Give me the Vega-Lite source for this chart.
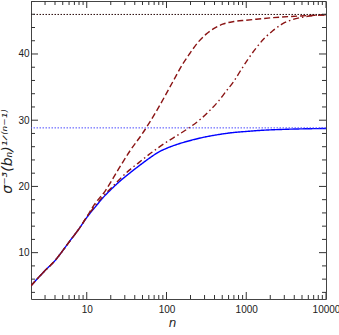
{
  "$schema": "https://vega.github.io/schema/vega-lite/v6.json",
  "width": 295,
  "height": 298,
  "autosize": {"type": "none"},
  "padding": {"left": 31, "top": 1, "right": 13, "bottom": 36},
  "background": "white",
  "config": {
    "view": {"stroke": "#444", "strokeWidth": 1},
    "axis": {"grid": false, "domain": false, "ticks": false, "labelFont": "Liberation Sans", "labelFontSize": 10, "labelColor": "#222", "titleFont": "DejaVu Sans", "titleFontStyle": "italic", "titleFontWeight": "normal", "titleColor": "#222", "labelOverlap": false, "labelFlush": false}
  },
  "datasets": {
    "one": [{"k": 1}],
    "xt": [{"t": 2}, {"t": 3}, {"t": 4}, {"t": 5}, {"t": 6}, {"t": 7}, {"t": 8}, {"t": 9}, {"t": 10}, {"t": 20}, {"t": 30}, {"t": 40}, {"t": 50}, {"t": 60}, {"t": 70}, {"t": 80}, {"t": 90}, {"t": 100}, {"t": 200}, {"t": 300}, {"t": 400}, {"t": 500}, {"t": 600}, {"t": 700}, {"t": 800}, {"t": 900}, {"t": 1000}, {"t": 2000}, {"t": 3000}, {"t": 4000}, {"t": 5000}, {"t": 6000}, {"t": 7000}, {"t": 8000}, {"t": 9000}, {"t": 10000}],
    "yt": [{"t": 4}, {"t": 6}, {"t": 8}, {"t": 10}, {"t": 12}, {"t": 14}, {"t": 16}, {"t": 18}, {"t": 20}, {"t": 22}, {"t": 24}, {"t": 26}, {"t": 28}, {"t": 30}, {"t": 32}, {"t": 34}, {"t": 36}, {"t": 38}, {"t": 40}, {"t": 42}, {"t": 44}, {"t": 46}, {"t": 48}],
    "curves": [
      {"n": 2, "v": 5.0, "s": "a"}, {"n": 2.6, "v": 6.5, "s": "a"}, {"n": 3, "v": 7.3, "s": "a"}, {"n": 4, "v": 8.8, "s": "a"}, {"n": 5, "v": 10.3, "s": "a"}, {"n": 6, "v": 11.6, "s": "a"}, {"n": 8, "v": 13.6, "s": "a"}, {"n": 10, "v": 15.3, "s": "a"}, {"n": 13, "v": 17.0, "s": "a"}, {"n": 16, "v": 18.3, "s": "a"}, {"n": 20, "v": 19.5, "s": "a"}, {"n": 25, "v": 20.6, "s": "a"}, {"n": 34.5, "v": 22.0, "s": "a"}, {"n": 50, "v": 23.5, "s": "a"}, {"n": 65, "v": 24.5, "s": "a"}, {"n": 80, "v": 25.2, "s": "a"}, {"n": 100, "v": 25.75, "s": "a"}, {"n": 140, "v": 26.4, "s": "a"}, {"n": 194, "v": 26.9, "s": "a"}, {"n": 300, "v": 27.45, "s": "a"}, {"n": 460, "v": 27.85, "s": "a"}, {"n": 700, "v": 28.15, "s": "a"}, {"n": 1000, "v": 28.3, "s": "a"}, {"n": 1450, "v": 28.45, "s": "a"}, {"n": 3000, "v": 28.62, "s": "a"}, {"n": 10000, "v": 28.75, "s": "a"},
      {"n": 2, "v": 5.0, "s": "b"}, {"n": 2.6, "v": 6.5, "s": "b"}, {"n": 3, "v": 7.3, "s": "b"}, {"n": 4, "v": 8.8, "s": "b"}, {"n": 5, "v": 10.3, "s": "b"}, {"n": 6, "v": 11.6, "s": "b"}, {"n": 8, "v": 13.6, "s": "b"}, {"n": 10, "v": 15.4, "s": "b"}, {"n": 12.5, "v": 17.3, "s": "b"}, {"n": 17, "v": 19.3, "s": "b"}, {"n": 25, "v": 22.6, "s": "b"}, {"n": 35, "v": 25.4, "s": "b"}, {"n": 50, "v": 28.0, "s": "b"}, {"n": 75, "v": 31.4, "s": "b"}, {"n": 120, "v": 35.8, "s": "b"}, {"n": 160, "v": 38.5, "s": "b"}, {"n": 194, "v": 40.0, "s": "b"}, {"n": 250, "v": 41.8, "s": "b"}, {"n": 314, "v": 43.0, "s": "b"}, {"n": 400, "v": 43.9, "s": "b"}, {"n": 506, "v": 44.5, "s": "b"}, {"n": 700, "v": 44.9, "s": "b"}, {"n": 1000, "v": 45.1, "s": "b"}, {"n": 1330, "v": 45.25, "s": "b"}, {"n": 2000, "v": 45.45, "s": "b"}, {"n": 3430, "v": 45.65, "s": "b"}, {"n": 6000, "v": 45.8, "s": "b"}, {"n": 10000, "v": 45.9, "s": "b"},
      {"n": 2, "v": 5.0, "s": "c"}, {"n": 2.6, "v": 6.5, "s": "c"}, {"n": 3, "v": 7.3, "s": "c"}, {"n": 4, "v": 8.8, "s": "c"}, {"n": 5, "v": 10.3, "s": "c"}, {"n": 6, "v": 11.6, "s": "c"}, {"n": 8, "v": 13.6, "s": "c"}, {"n": 10, "v": 15.35, "s": "c"}, {"n": 16, "v": 18.5, "s": "c"}, {"n": 20, "v": 19.7, "s": "c"}, {"n": 25, "v": 20.9, "s": "c"}, {"n": 34.5, "v": 22.5, "s": "c"}, {"n": 45, "v": 23.6, "s": "c"}, {"n": 60, "v": 24.8, "s": "c"}, {"n": 80, "v": 25.9, "s": "c"}, {"n": 100, "v": 26.7, "s": "c"}, {"n": 145, "v": 27.9, "s": "c"}, {"n": 200, "v": 29.0, "s": "c"}, {"n": 270, "v": 30.2, "s": "c"}, {"n": 345, "v": 31.4, "s": "c"}, {"n": 450, "v": 32.9, "s": "c"}, {"n": 562, "v": 34.4, "s": "c"}, {"n": 700, "v": 35.9, "s": "c"}, {"n": 850, "v": 37.5, "s": "c"}, {"n": 1050, "v": 39.2, "s": "c"}, {"n": 1330, "v": 40.9, "s": "c"}, {"n": 1700, "v": 42.4, "s": "c"}, {"n": 2150, "v": 43.5, "s": "c"}, {"n": 2800, "v": 44.5, "s": "c"}, {"n": 3800, "v": 45.2, "s": "c"}, {"n": 5000, "v": 45.55, "s": "c"}, {"n": 7000, "v": 45.8, "s": "c"}, {"n": 10000, "v": 45.9, "s": "c"}
    ]
  },
  "layer": [
    {
      "data": {"name": "curves"},
      "mark": {"type": "line", "strokeWidth": 1.4, "interpolate": "monotone", "clip": true},
      "encoding": {
        "x": {"field": "n", "type": "quantitative", "scale": {"type": "log", "domain": [2, 10000], "nice": false},
          "axis": {"orient": "bottom", "title": "n", "titleFontSize": 12, "titleX": 141, "titleY": 27, "titleBaseline": "alphabetic",
            "values": [10, 100, 1000, 10000], "format": "d", "labelPadding": 5}},
        "y": {"field": "v", "type": "quantitative", "scale": {"domain": [3, 48], "nice": false, "zero": false},
          "axis": {"orient": "left", "title": "σ⁻³(bₙ)¹ᐟ⁽ⁿ⁻¹⁾", "titleFontSize": 14, "titleAngle": -90, "titleX": -20, "titleY": 150, "titleAlign": "center", "titleBaseline": "alphabetic",
            "values": [10, 20, 30, 40], "format": "d", "labelPadding": 2}},
        "color": {"field": "s", "type": "nominal", "scale": {"domain": ["a", "b", "c"], "range": ["#0000ff", "#8a1414", "#8a1414"]}, "legend": null},
        "strokeDash": {"field": "s", "type": "nominal", "scale": {"domain": ["a", "b", "c"], "range": [[1, 0], [6, 3], [6, 3, 1.5, 3]]}, "legend": null}
      }
    },
    {
      "data": {"name": "one"},
      "mark": {"type": "rule", "strokeWidth": 1, "strokeDash": [1.5, 1.5], "color": "#4a4aff"},
      "encoding": {"y": {"datum": 28.84, "type": "quantitative", "axis": null}}
    },
    {
      "data": {"name": "one"},
      "mark": {"type": "rule", "strokeWidth": 1, "strokeDash": [1.5, 1.5], "color": "#2a0a0a"},
      "encoding": {"y": {"datum": 45.97, "type": "quantitative", "axis": null}}
    },
    {
      "data": {"name": "xt"},
      "mark": {"type": "tick", "orient": "vertical", "thickness": 1, "color": "#333", "opacity": 1, "clip": true},
      "encoding": {
        "x": {"field": "t", "type": "quantitative", "axis": null},
        "y": {"datum": 3, "type": "quantitative", "axis": null},
        "size": {"condition": {"test": "datum.t==10||datum.t==100||datum.t==1000||datum.t==10000", "value": 14}, "value": 8}
      }
    },
    {
      "data": {"name": "xt"},
      "mark": {"type": "tick", "orient": "vertical", "thickness": 1, "color": "#333", "opacity": 1, "clip": true},
      "encoding": {
        "x": {"field": "t", "type": "quantitative", "axis": null},
        "y": {"datum": 48, "type": "quantitative", "axis": null},
        "size": {"condition": {"test": "datum.t==10||datum.t==100||datum.t==1000||datum.t==10000", "value": 14}, "value": 8}
      }
    },
    {
      "data": {"name": "yt"},
      "mark": {"type": "tick", "orient": "horizontal", "thickness": 1, "color": "#333", "opacity": 1, "clip": true},
      "encoding": {
        "y": {"field": "t", "type": "quantitative", "axis": null},
        "x": {"datum": 2, "type": "quantitative", "axis": null},
        "size": {"condition": {"test": "datum.t % 10 == 0", "value": 14}, "value": 8}
      }
    },
    {
      "data": {"name": "yt"},
      "mark": {"type": "tick", "orient": "horizontal", "thickness": 1, "color": "#333", "opacity": 1, "clip": true},
      "encoding": {
        "y": {"field": "t", "type": "quantitative", "axis": null},
        "x": {"datum": 10000, "type": "quantitative", "axis": null},
        "size": {"condition": {"test": "datum.t % 10 == 0", "value": 14}, "value": 8}
      }
    }
  ],
  "resolve": {"axis": {"x": "independent", "y": "independent"}}
}
